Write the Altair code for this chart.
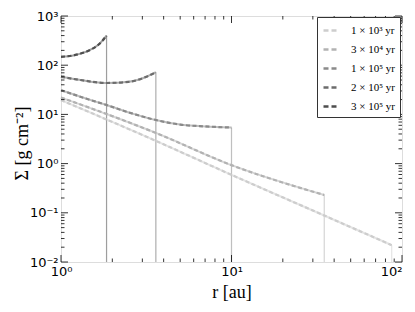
import altair as alt
import pandas as pd

labels = ["1 × 10³ yr", "3 × 10⁴ yr", "1 × 10⁵ yr", "2 × 10⁵ yr", "3 × 10⁵ yr"]
colors = ["#cdcdcd", "#b2b2b2", "#8a8a8a", "#6c6c6c", "#4e4e4e"]

r1 = [1, 3.6, 10, 35, 87]
s1 = [19.5, 2.9, 0.59, 0.088, 0.022]
r2 = [1, 1.85, 3.6, 10, 35]
s2 = [22, 10.2, 4.2, 0.93, 0.23]
r3 = [1, 1.4, 1.85, 2.6, 3.6, 5, 7, 10]
s3 = [31, 21, 15.5, 10.5, 7.7, 6.2, 5.7, 5.4]
r4 = [1, 1.3, 1.85, 2.5, 3.2, 3.6]
s4 = [58, 50, 43.5, 46, 59, 72]
r5 = [1, 1.2, 1.45, 1.65, 1.75, 1.85]
s5 = [148, 160, 197, 257, 315, 400]

r_end = [87, 35, 10, 3.6, 1.85]
s_end = [0.022, 0.23, 5.4, 72, 400]

x_major = [1, 10, 100]
x_major_labels = ["10⁰", "10¹", "10²"]
x_minor = [2, 3, 4, 5, 6, 7, 8, 9, 20, 30, 40, 50, 60, 70, 80, 90]
y_major = [0.01, 0.1, 1, 10, 100, 1000]
y_major_labels = ["10⁻²", "10⁻¹", "10⁰", "10¹", "10²", "10³"]
y_minor = [m * d for d in [0.01, 0.1, 1, 10, 100] for m in range(2, 10)]

W, H = 341, 246

rows = []
for lab, rr, ss in zip(labels, [r1, r2, r3, r4, r5], [s1, s2, s3, s4, s5]):
    for i, (a, b) in enumerate(zip(rr, ss)):
        rows.append({"series": lab, "r": a, "s": b, "i": i})
df = pd.DataFrame(rows)
df_end = pd.DataFrame({"series": labels, "r": r_end, "s": s_end})


def lab_expr(vals, labs):
    expr = "''"
    for v, l in zip(vals, labs):
        expr = f"abs(datum.value - {v}) < {v}*0.001 ? '{l}' : ({expr})"
    return expr


xscale = alt.Scale(type="log", domain=[1, 100], nice=False)
yscale = alt.Scale(type="log", domain=[0.01, 1000], nice=False)
xaxis = alt.Axis(values=x_major, labelExpr=lab_expr(x_major, x_major_labels),
                 title="r [au]", titleFont="Liberation Serif", titleFontSize=18,
                 titleFontWeight="normal", titleColor="black", titlePadding=5,
                 labelFont="DejaVu Sans", labelFontSize=13, labelColor="black",
                 labelAlign={"condition": {"test": "datum.value > 50", "value": "right"},
                             "value": "center"},
                 labelPadding=3, labelFlush=False, ticks=False, domain=False, grid=False)
yaxis = alt.Axis(values=y_major, labelExpr=lab_expr(y_major, y_major_labels),
                 title="Σ [g cm⁻²]", titleFont="Liberation Serif", titleFontSize=18,
                 titleFontWeight="normal", titleColor="black",
                 titleX=-39, titleY=127, titleBaseline="middle", titleAlign="center",
                 titleAngle=270,
                 labelFont="DejaVu Sans", labelFontSize=13, labelColor="black",
                 labelPadding=3, labelFlush=False, ticks=False, domain=False, grid=False)

X = lambda f: alt.X(f, type="quantitative", scale=xscale, axis=xaxis)
Y = lambda f: alt.Y(f, type="quantitative", scale=yscale, axis=yaxis)

cscale = alt.Scale(domain=labels, range=colors)
legend = alt.Legend(title=None, orient="none", legendX=256, legendY=1,
                    symbolType="stroke", symbolDash=[5, 3],
                    symbolStrokeWidth=2.4, symbolSize=196, symbolOpacity=1,
                    labelFont="Liberation Serif", labelFontSize=11,
                    labelColor="black", rowPadding=5,
                    padding=5, strokeColor="#333", fillColor="white",
                    labelOffset=12)
C = alt.Color("series:N", scale=cscale, sort=labels, legend=legend)

vlines = alt.Chart(df_end).mark_rule(strokeWidth=1.2, opacity=0.55).encode(
    x=X("r"), y=Y("s"), y2=alt.value(H), color=C,
)

solid = alt.Chart(df).mark_line(strokeWidth=2, opacity=0.55, interpolate="monotone").encode(
    x=X("r"), y=Y("s"), order="i:Q", color=C,
)

dashed = alt.Chart(df).mark_line(strokeWidth=2.2, strokeDash=[4, 2.5], interpolate="monotone").encode(
    x=X("r"), y=Y("s"), order="i:Q", color=C,
)


def ticks(vals, side, length):
    d = pd.DataFrame({"v": vals})
    c = alt.Chart(d).mark_rule(color="black", strokeWidth=0.8)
    if side == "bottom":
        return c.encode(x=X("v"), y=alt.value(H), y2=alt.value(H - length))
    if side == "top":
        return c.encode(x=X("v"), y=alt.value(0), y2=alt.value(length))
    if side == "left":
        return c.encode(y=Y("v"), x=alt.value(0), x2=alt.value(length))
    return c.encode(y=Y("v"), x=alt.value(W), x2=alt.value(W - length))


tick_layers = []
for side in ["bottom", "top"]:
    tick_layers.append(ticks(x_major, side, 7))
    tick_layers.append(ticks(x_minor, side, 3.5))
for side in ["left", "right"]:
    tick_layers.append(ticks(y_major, side, 7))
    tick_layers.append(ticks(y_minor, side, 3.5))

chart = alt.layer(vlines, solid, dashed, *tick_layers).properties(
    width=W, height=H,
    autosize=alt.AutoSizeParams(type="none"),
    padding={"left": 53, "top": 8, "right": 5, "bottom": 42},
).configure_view(stroke="black", strokeWidth=1.2).configure(background="white")

chart.save("out.html", embed_options={"renderer": "svg", "actions": False})
